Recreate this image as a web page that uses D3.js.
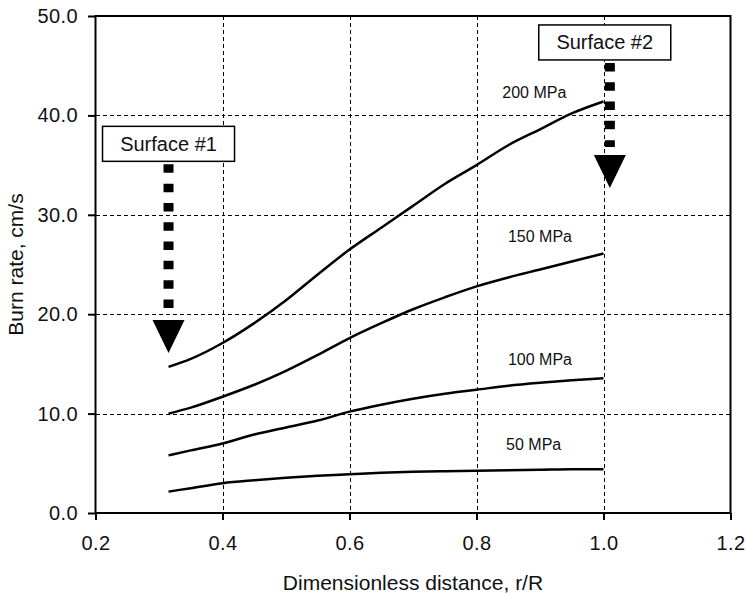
<!DOCTYPE html>
<html>
<head>
<meta charset="utf-8">
<script src="https://cdn.jsdelivr.net/npm/d3@7"></script>
<style>
  html, body { margin: 0; padding: 0; background: #fff; }
  svg { display: block; font-family: Arial, "Liberation Sans", sans-serif; }
</style>
</head>
<body>
<svg id="chart" width="746" height="595"></svg>
<script>
// ---- data ----
const xTicks = [0.2, 0.4, 0.6, 0.8, 1.0, 1.2];
const yTicks = [0, 10, 20, 30, 40, 50];
const radius = [0.315, 0.35, 0.4, 0.45, 0.5, 0.55, 0.6, 0.65, 0.7, 0.75, 0.8, 0.85, 0.9, 0.95, 1.0];
const rate200 = [14.7, 15.5, 17.1, 19.1, 21.4, 24.0, 26.5, 28.7, 30.9, 33.1, 35.0, 37.0, 38.6, 40.2, 41.4];
const rate150 = [10.0, 10.6, 11.7, 12.9, 14.3, 15.9, 17.6, 19.1, 20.5, 21.7, 22.8, 23.7, 24.5, 25.3, 26.1];
const rate100 = [5.8, 6.3, 7.0, 7.9, 8.6, 9.3, 10.2, 10.9, 11.5, 12.0, 12.4, 12.8, 13.1, 13.35, 13.55];
const rate50  = [2.15, 2.5, 3.0, 3.3, 3.55, 3.75, 3.9, 4.05, 4.15, 4.2, 4.25, 4.3, 4.35, 4.4, 4.4];
const seriesNames = ["200 MPa", "150 MPa", "100 MPa", "50 MPa"];
const seriesValues = [rate200, rate150, rate100, rate50];
// label anchor (data coords)
const labelX = [0.891, 0.9, 0.9, 0.89];
const labelY = [41.8, 27.3, 14.9, 6.3];
// annotations: arrow x, box centre x, box top value, arrow tip value
const annoNames = ["Surface #1", "Surface #2"];
const annoX = [0.315, 1.01];
const annoBoxX = [0.315, 1.002];
const annoTop = [38.9, 49.1];
const annoTip = [16.1, 32.7];

// ---- layout ----
const svg = d3.select("#chart");
const pLeft = 95.5, pRight = 730.5, pTop = 16, pBottom = 513;
const x = d3.scaleLinear().domain([0.2, 1.2]).range([pLeft, pRight]);
const y = d3.scaleLinear().domain([0, 50]).range([pBottom, pTop]);

// grid
const grid = svg.append("g").attr("stroke", "#000").attr("stroke-width", 1)
  .attr("stroke-dasharray", "4,3").attr("shape-rendering", "crispEdges");
grid.selectAll("line.v").data(xTicks.filter(d => d > 0.2 && d < 1.2)).join("line")
  .attr("class", "v")
  .attr("x1", d => Math.round(x(d)) + 0.5).attr("x2", d => Math.round(x(d)) + 0.5)
  .attr("y1", pTop).attr("y2", pBottom);
grid.selectAll("line.h").data(yTicks.filter(d => d > 0 && d < 50)).join("line")
  .attr("class", "h")
  .attr("y1", d => Math.round(y(d)) + 0.5).attr("y2", d => Math.round(y(d)) + 0.5)
  .attr("x1", pLeft).attr("x2", pRight);

// axes
const fmt = d3.format(".1f");
const xAxis = svg.append("g").attr("transform", `translate(0,${pBottom})`)
  .call(d3.axisBottom(x).tickValues(xTicks).tickFormat(fmt).tickSize(7).tickSizeOuter(0).tickPadding(16));
const yAxis = svg.append("g").attr("transform", `translate(${pLeft},0)`)
  .call(d3.axisLeft(y).tickValues(yTicks).tickFormat(fmt).tickSize(7.5).tickSizeOuter(0).tickPadding(10));
[xAxis, yAxis].forEach(a => {
  a.select(".domain").remove();
  a.selectAll(".tick line").attr("stroke", "#000").attr("stroke-width", 2);
  a.selectAll(".tick text").attr("font-size", 20).attr("fill", "#111")
    .attr("letter-spacing", 0.4)
    .attr("font-family", "Arial, 'Liberation Sans', sans-serif");
});

// frame
svg.append("rect").attr("x", pLeft).attr("y", pTop)
  .attr("width", pRight - pLeft).attr("height", pBottom - pTop)
  .attr("fill", "none").attr("stroke", "#000").attr("stroke-width", 2);

// curves
const line = d3.line().x((d, i) => x(radius[i])).y(d => y(d)).curve(d3.curveMonotoneX);
svg.append("g").selectAll("path").data(seriesValues).join("path")
  .attr("d", d => line(d)).attr("fill", "none").attr("stroke", "#000")
  .attr("stroke-width", 2.5).attr("stroke-linejoin", "round");

// curve labels
svg.append("g").selectAll("text").data(seriesNames).join("text")
  .attr("x", (d, i) => x(labelX[i])).attr("y", (d, i) => y(labelY[i]))
  .attr("text-anchor", "middle").attr("font-size", 16).attr("fill", "#111")
  .text(d => d);

// annotations
const anno = svg.append("g");
annoNames.forEach((name, i) => {
  const cx = x(annoX[i]);
  const bx = x(annoBoxX[i]);
  const boxTop = y(annoTop[i]);
  const boxH = 35, boxW = 132;
  const tipY = y(annoTip[i]);
  const headH = 33, headW = 32;
  anno.append("line")
    .attr("x1", cx).attr("x2", cx)
    .attr("y1", boxTop + boxH + 3).attr("y2", tipY - headH - 8)
    .attr("stroke", "#000").attr("stroke-width", 10)
    .attr("stroke-dasharray", "8.5,10.8");
  anno.append("path")
    .attr("d", `M${cx - headW / 2},${tipY - headH} L${cx + headW / 2},${tipY - headH} L${cx},${tipY} Z`)
    .attr("fill", "#000");
  anno.append("rect").attr("x", bx - boxW / 2).attr("y", boxTop)
    .attr("width", boxW).attr("height", boxH)
    .attr("fill", "#fff").attr("stroke", "#000").attr("stroke-width", 1.5);
  anno.append("text").attr("x", bx).attr("y", boxTop + boxH / 2 + 7)
    .attr("text-anchor", "middle").attr("font-size", 20).attr("fill", "#111")
    .text(name);
});

// axis titles
svg.append("text").attr("x", (pLeft + pRight) / 2).attr("y", 590)
  .attr("text-anchor", "middle").attr("font-size", 21).attr("fill", "#111")
  .text("Dimensionless distance, r/R");
svg.append("text").attr("transform", `translate(23,${(pTop + pBottom) / 2}) rotate(-90)`)
  .attr("text-anchor", "middle").attr("font-size", 21).attr("fill", "#111")
  .text("Burn rate, cm/s");
</script>
</body>
</html>
